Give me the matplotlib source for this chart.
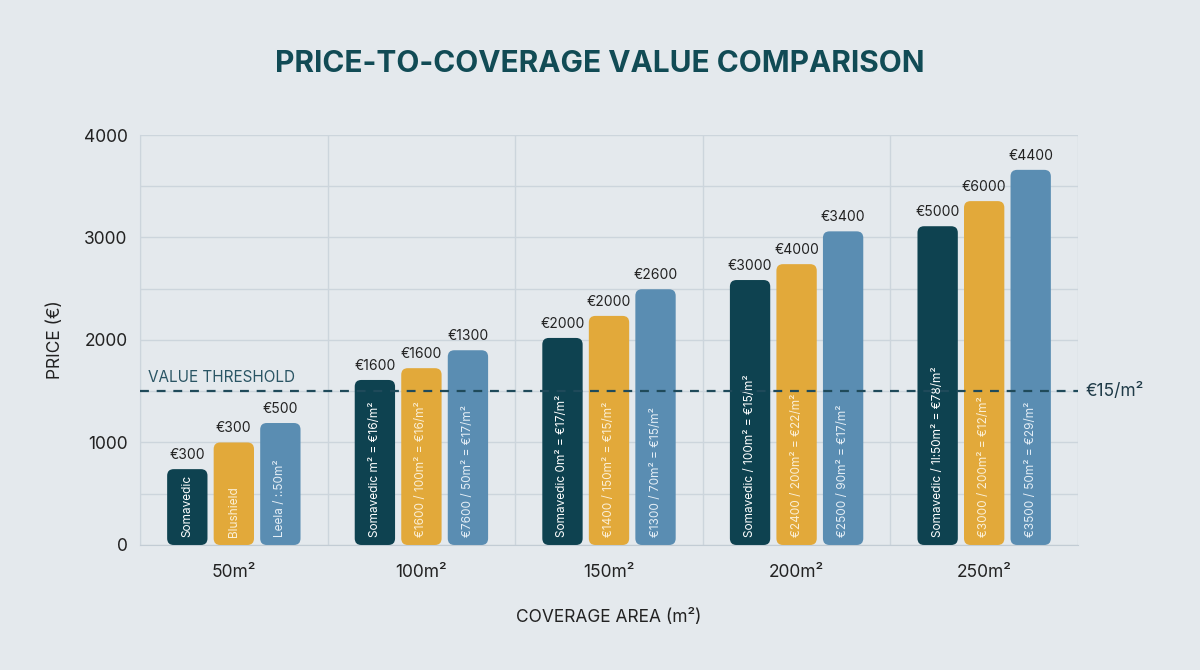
import numpy as np
import matplotlib.pyplot as plt
from matplotlib.patches import FancyBboxPatch

plt.rcParams['font.family'] = ['Inter', 'DejaVu Sans']

# Dati del grafico
areas = ['50m²', '100m²', '150m²', '200m²', '250m²']
series = ['Somavedic', 'Blushield', 'Leela']
prices = [
    [740, 1610, 2020, 2585, 3110],   # Somavedic
    [1000, 1725, 2235, 2740, 3355],  # Blushield
    [1190, 1900, 2495, 3060, 3660],  # Leela
]
top_labels = [
    ['€300', '€1600', '€2000', '€3000', '€5000'],
    ['€300', '€1600', '€2000', '€4000', '€6000'],
    ['€500', '€1300', '€2600', '€3400', '€4400'],
]
inner_labels = [
    ['Somavedic', 'Somavedic m² = €16/m²', 'Somavedic 0m² = €17/m²',
     'Somavedic / 100m² = €15/m²', 'Somavedic / 1l:50m² = €78/m²'],
    ['Blushield', '€1600 / 100m² = €16/m²', '€1400 / 150m² = €15/m²',
     '€2400 / 200m² = €22/m²', '€3000 / 200m² = €12/m²'],
    ['Leela / :.50m²', '€7600 / 50m² = €17/m²', '€1300 / 70m² = €15/m²',
     '€2500 / 90m² = €17/m²', '€3500 / 50m² = €29/m²'],
]
threshold = 1500

colors = ['#0e4250', '#e2a93a', '#5a8db2']
text_colors = ['#ffffff', '#fbefd6', '#e4eef6']
bg = '#e4e9ed'

fig = plt.figure(figsize=(12, 6.7), dpi=100, facecolor=bg)
ax = fig.add_axes([0.1167, 0.1866, 0.7816, 0.6119], facecolor=bg)

ax.set_xlim(0, 5)
ax.set_ylim(0, 4000)

# griglia
ax.set_yticks(np.arange(0, 4001, 1000))
ax.set_yticks(np.arange(0, 4001, 500), minor=True)
ax.set_xticks(np.arange(0, 6), minor=True)
ax.grid(which='minor', color='#ccd5dc', linewidth=1)
ax.grid(which='major', axis='y', color='#ccd5dc', linewidth=1)
ax.set_axisbelow(True)
for s in ['top', 'right']:
    ax.spines[s].set_visible(False)
ax.spines['left'].set_color('#ccd5dc')
ax.spines['bottom'].set_color('#c2ccd4')

x = np.arange(len(areas)) + 0.5
ax.set_xticks(x)
ax.set_xticklabels(areas, fontsize=12.5, color='#222222')
ax.tick_params(axis='both', which='both', length=0)
ax.tick_params(axis='x', pad=14)
ax.tick_params(axis='y', labelsize=12.5, labelcolor='#222222', pad=9)

w = 0.215
step = 0.248
aspect = 1830
for i in range(3):
    for j in range(len(areas)):
        cx = x[j] + (i - 1) * step
        h = prices[i][j]
        box = FancyBboxPatch((cx - w / 2, 0), w, h,
                             boxstyle='round,pad=0,rounding_size=0.035',
                             mutation_aspect=aspect,
                             facecolor=colors[i], edgecolor='none', zorder=3)
        ax.add_patch(box)
        ax.text(cx, h + 70, top_labels[i][j], ha='center', va='bottom',
                fontsize=10, color='#222222', zorder=4)
        ax.text(cx, 80, inner_labels[i][j], ha='center', va='bottom',
                rotation=90, fontsize=8.5, color=text_colors[i], zorder=4)

# soglia
ax.axhline(threshold, color='#1f4a5a', linewidth=1.6, linestyle=(0, (4, 3.5)), zorder=5)
ax.text(0.04, threshold + 60, 'VALUE THRESHOLD', ha='left', va='bottom',
        fontsize=11, color='#2a5564', zorder=5)
ax.text(5.04, threshold, '€15/m²', ha='left', va='center',
        fontsize=12.5, color='#1f3b48', clip_on=False)

ax.set_ylabel('PRICE (€)', fontsize=12.5, color='#222222', labelpad=14)
ax.set_xlabel('COVERAGE AREA (m²)', fontsize=12.5, color='#222222', labelpad=20)

fig.text(0.5, 0.905, 'PRICE-TO-COVERAGE VALUE COMPARISON', ha='center', va='center',
         fontsize=21.5, fontweight='bold', color='#114b55')

fig.savefig('out.png', dpi=100, facecolor=bg)
